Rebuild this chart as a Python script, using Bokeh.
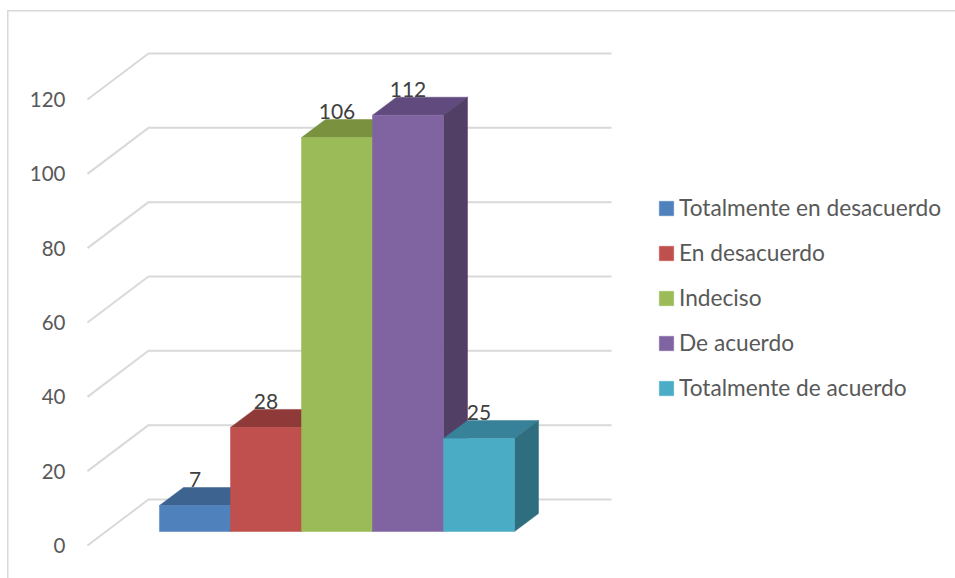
from bokeh.plotting import figure
from bokeh.models import Range1d, FixedTicker, Legend, LegendItem, ColumnDataSource
from bokeh.core.properties import value
from bokeh.embed import file_html
from bokeh.resources import INLINE

# Data
categories = ["Totalmente en desacuerdo", "En desacuerdo", "Indeciso", "De acuerdo", "Totalmente de acuerdo"]
values = [7, 28, 106, 112, 25]
y_ticks = [0, 20, 40, 60, 80, 100, 120]
front_colors = ["#4F81BD", "#C0504D", "#9BBB59", "#8064A2", "#4BACC6"]
top_colors = ["#3D6491", "#8F3A38", "#7A9140", "#614A7E", "#378299"]
side_colors = ["#3A5A80", "#823735", "#6B8040", "#523F65", "#2F6E7F"]

# Oblique projection constants (x in category widths, y in value units)
BASE = 3.77
BAR_DX, BAR_DY = 0.338, 4.84
WALL_X0, WALL_X1, WALL_X2 = -1.014, -0.155, 6.366
WALL_DY = 12.38
FONT = "Lato"
FRAME = "#D9D9D9"

p = figure(width=955, height=578, output_backend="svg", toolbar_location=None,
           x_range=Range1d(-1.225, 11.211), y_range=Range1d(-8.88, 146.64),
           x_axis_location=None, min_border=0, min_border_left=72,
           min_border_right=0, min_border_top=0, min_border_bottom=0,
           outline_line_color=None, border_fill_color=None, background_fill_color=None,
           styles={"background":
                   f"linear-gradient({FRAME},{FRAME}) 6.5px 10px/calc(100% - 6.5px) 1.5px no-repeat,"
                   f"linear-gradient({FRAME},{FRAME}) 6.5px 10px/1.5px 100% no-repeat,white"})
p.xgrid.visible = False
p.ygrid.visible = False

ax = p.yaxis[0]
ax.ticker = FixedTicker(ticks=y_ticks)
ax.axis_line_color = None
ax.major_tick_line_color = None
ax.minor_tick_line_color = None
ax.major_label_standoff = 1
ax.major_label_text_font = FONT
ax.major_label_text_font_size = "20.5px"
ax.major_label_text_color = "#595959"

# wall gridlines
for t in y_ticks:
    p.line([WALL_X0, WALL_X1, WALL_X2], [t, t + WALL_DY, t + WALL_DY],
           line_color="#D9D9D9", line_width=2)

items = []
for i, (name, v) in enumerate(zip(categories, values)):
    y0, y1 = BASE, BASE + v
    x0, x1 = i, i + 1
    p.patch([x0, x1, x1 + BAR_DX, x0 + BAR_DX], [y1, y1, y1 + BAR_DY, y1 + BAR_DY],
            fill_color=top_colors[i], line_color=top_colors[i], line_width=0.5)
    p.patch([x1, x1 + BAR_DX, x1 + BAR_DX, x1], [y0, y0 + BAR_DY, y1 + BAR_DY, y1],
            fill_color=side_colors[i], line_color=side_colors[i], line_width=0.5)
    r = p.quad(left=[x0], right=[x1], bottom=[y0], top=[y1],
               fill_color=front_colors[i], line_color=front_colors[i], line_width=0.5)
    items.append(LegendItem(label=name, renderers=[r]))

src = ColumnDataSource(dict(x=[i + 0.5 for i in range(len(values))],
                            y=[BASE + v + 7 for v in values],
                            t=[str(v) for v in values]))
p.text(x="x", y="y", text="t", source=src, text_align="center", text_baseline="middle",
       text_font=value(FONT), text_font_size="21px", text_color="#404040")

legend = Legend(items=items, location=(585, 177), orientation="vertical",
                background_fill_alpha=0, border_line_color=None,
                glyph_width=18, glyph_height=18, label_standoff=4, spacing=18,
                label_text_font=FONT, label_text_font_size="22.7px",
                label_text_color="#595959", label_height=18, margin=0, padding=0)
p.add_layout(legend)

open("out.html", "w").write(file_html(p, INLINE))
